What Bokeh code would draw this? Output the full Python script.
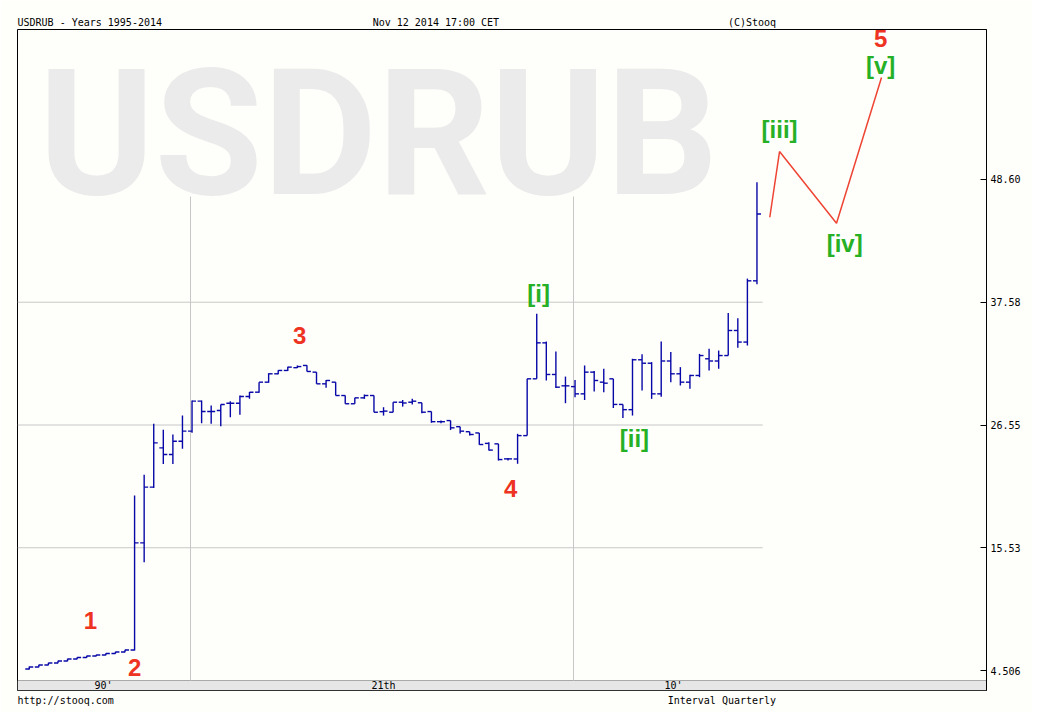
from bokeh.plotting import figure
from bokeh.models import Range1d, FixedTicker, Label, BoxAnnotation, ColumnDataSource, Title
from bokeh.core.properties import value
from bokeh.embed import file_html
from bokeh.resources import INLINE

# ---------------- data (quarterly OHLC, 1995Q4 .. 2014Q4) ----------------
quarters = ["1995Q4"] + [f"{y}Q{q}" for y in range(1996, 2015) for q in range(1, 5)]

opens = [
    4.64,
    4.82, 5.00, 5.18, 5.36,
    5.54, 5.67, 5.81, 5.90,
    6.03, 6.17, 6.35, 15.97,
    20.97, 24.50, 23.90, 25.10,
    26.00, 28.70, 27.76, 27.85,
    28.51, 28.51, 29.11, 29.50,
    30.40, 31.15, 31.45, 31.70,
    31.90, 31.30, 30.25, 30.40,
    29.20, 28.46, 28.99, 29.20,
    27.75, 27.70, 28.60, 28.60,
    28.55, 27.76, 26.85, 26.95,
    26.40, 25.95, 25.84, 24.90,
    24.86, 23.51, 23.50, 25.60,
    30.70, 33.93, 31.09, 30.07,
    30.00, 29.35, 31.30, 30.40,
    30.70, 28.40, 27.93, 32.41,
    32.10, 29.35, 32.30, 31.15,
    30.40, 31.00, 32.50, 32.30,
    32.79, 35.04, 34.00, 39.50,
]
highs = [
    4.86,
    5.03, 5.21, 5.39, 5.57,
    5.70, 5.84, 5.93, 6.06,
    6.20, 6.38, 20.22, 22.08,
    26.66, 26.12, 25.70, 27.40,
    28.75, 28.75, 28.30, 28.39,
    28.69, 29.20, 29.51, 30.40,
    31.20, 31.48, 31.78, 31.90,
    31.92, 31.30, 30.60, 30.40,
    29.20, 28.99, 29.29, 29.20,
    28.15, 28.60, 28.80, 28.90,
    28.55, 27.76, 26.95, 26.95,
    26.40, 25.95, 25.84, 25.00,
    24.86, 23.60, 25.76, 30.70,
    36.54, 34.05, 33.15, 30.90,
    30.60, 31.90, 31.40, 31.60,
    30.70, 28.40, 32.50, 32.90,
    32.20, 34.05, 33.10, 31.75,
    31.06, 32.94, 33.40, 33.24,
    36.60, 36.15, 39.70, 48.35,
]
lows = [
    4.60,
    4.79, 4.97, 5.15, 5.33,
    5.51, 5.64, 5.78, 5.87,
    6.00, 6.14, 6.30, 14.23,
    20.90, 23.06, 23.06, 24.41,
    25.85, 26.71, 26.66, 26.44,
    27.25, 27.47, 28.90, 29.45,
    30.35, 31.10, 31.40, 31.67,
    31.36, 30.25, 29.90, 29.20,
    28.46, 28.46, 28.90, 27.70,
    27.40, 27.70, 28.20, 28.40,
    27.60, 26.75, 26.70, 26.10,
    25.80, 25.60, 24.77, 24.26,
    23.36, 23.36, 23.07, 25.60,
    30.70, 30.55, 29.88, 28.51,
    29.05, 28.80, 29.56, 29.50,
    28.08, 27.18, 27.40, 29.65,
    28.90, 29.10, 30.40, 30.10,
    29.80, 30.85, 31.45, 31.60,
    32.79, 33.50, 33.69, 39.20,
]
closes = [
    4.82,
    5.00, 5.18, 5.36, 5.54,
    5.67, 5.81, 5.90, 6.03,
    6.17, 6.35, 15.97, 20.97,
    24.95, 23.90, 25.10, 26.00,
    28.70, 27.76, 27.76, 28.39,
    28.51, 29.11, 29.50, 30.40,
    31.15, 31.45, 31.75, 31.80,
    31.36, 30.25, 30.55, 29.20,
    28.46, 28.99, 29.20, 27.70,
    27.80, 28.60, 28.53, 28.69,
    27.70, 26.85, 26.85, 26.30,
    26.00, 25.70, 24.80, 24.30,
    23.45, 23.51, 25.60, 30.70,
    33.93, 31.09, 29.95, 30.07,
    29.35, 31.30, 30.55, 30.31,
    28.40, 27.93, 32.41, 32.10,
    29.35, 32.30, 31.15, 30.40,
    31.00, 32.79, 32.30, 32.79,
    35.04, 34.00, 39.50, 45.50,
]

y_ticks = [4.506, 15.53, 26.55, 37.58, 48.60]
y_tick_labels = ["4.506", "15.53", "26.55", "37.58", "48.60"]
grid_values = [15.53, 26.55, 37.58]
decade_years = [2000, 2010]
era_labels = ["90'", "21th", "10'"]
era_centers = [1997.73, 2005.04, 2012.61]

header_texts = ["USDRUB - Years 1995-2014", "Nov 12 2014 17:00 CET", "(C)Stooq"]
footer_texts = ["http://stooq.com", "Interval Quarterly"]

# Elliott-wave annotations (year, value)
red_labels = ["1", "2", "3", "4", "5"]
red_x = [1997.39, 1998.54, 2002.85, 2008.36, 2018.02]
red_y = [8.99, 4.78, 34.59, 20.85, 61.26]
green_labels = ["[i]", "[ii]", "[iii]", "[iv]", "[v]"]
green_x = [2009.09, 2011.59, 2015.38, 2017.08, 2018.02]
green_y = [38.36, 25.34, 53.09, 42.85, 58.84]
path_x = [2015.125, 2015.379, 2016.867, 2018.042]
path_y = [45.21, 51.11, 44.67, 57.76]

# ---------------- build ----------------
X0, X1 = 1995.483, 2020.783
Y0, Y1 = 2.71, 62.07

def qpos(label):
    y, q = label.split("Q")
    return int(y) + (int(q) - 1) / 4 + 0.04

xs = [qpos(s) for s in quarters]
half = 0.104  # tick half width in years

src = ColumnDataSource(dict(
    x=xs, o=opens, h=highs, l=lows, c=closes,
    xl=[x - half for x in xs], xr=[x + half for x in xs],
))

BG = "#fefefa"
p = figure(width=1032, height=712, output_backend="svg", toolbar_location=None,
           x_range=Range1d(X0, X1), y_range=Range1d(Y0, Y1),
           y_axis_location="right", x_axis_location=None,
           min_border_left=17, min_border_top=29, min_border_right=46, min_border_bottom=22,
           background_fill_color=BG, border_fill_color=BG)
p.xgrid.visible = False
p.ygrid.visible = False
p.outline_line_color = "black"
p.outline_line_width = 1

# watermark
p.add_layout(Label(x=1996.03, y=52.68, text="USDRUB", text_font="Roboto",
                   text_font_style="bold", text_font_size="176px", text_color="#ebebeb",
                   text_baseline="middle", level="image"))

# bottom band
p.add_layout(BoxAnnotation(top=3.608, fill_color="#e6e6e6", fill_alpha=1.0,
                           line_color="black", line_width=1, level="underlay"))

# grid
gx0 = [X0] * len(grid_values)
gx1 = [2014.94] * len(grid_values)
p.segment(x0=gx0, y0=grid_values, x1=gx1, y1=grid_values, line_color="#c8c8c8", line_width=1)
p.segment(x0=decade_years, y0=[3.608] * 2, x1=decade_years, y1=[47.07] * 2,
          line_color="#c8c8c8", line_width=1)

# OHLC bars
BAR = "#0808a8"
p.segment(x0="x", y0="l", x1="x", y1="h", source=src, line_color=BAR, line_width=1.4)
p.segment(x0="xl", y0="o", x1="x", y1="o", source=src, line_color=BAR, line_width=1.4)
p.segment(x0="x", y0="c", x1="xr", y1="c", source=src, line_color=BAR, line_width=1.4)

# projection path
p.line(path_x, path_y, line_color="#ee4433", line_width=1.5)

# wave labels
p.text(x=red_x, y=red_y, text=red_labels, text_color="#ee3322",
       text_font=value("Liberation Sans"), text_font_style="bold", text_font_size="24px",
       text_align="center", text_baseline="middle")
p.text(x=green_x, y=green_y, text=green_labels, text_color="#26b026",
       text_font=value("Liberation Sans"), text_font_style="bold", text_font_size="24px",
       text_align="center", text_baseline="middle")

# era labels in band
p.text(x=era_centers, y=[3.16] * 3, text=era_labels, text_color="black",
       text_font=value("DejaVu Sans Mono"), text_font_size="10px",
       text_align="center", text_baseline="middle")

# right axis
ax = p.yaxis[0]
ax.ticker = FixedTicker(ticks=y_ticks)
ax.major_label_overrides = {v: s for v, s in zip(y_ticks, y_tick_labels)}
ax.major_label_text_font = "DejaVu Sans Mono"
ax.major_label_text_font_size = "10px"
ax.major_label_text_color = "black"
ax.major_label_standoff = 4
ax.major_tick_in = 6
ax.major_tick_out = 0
ax.minor_tick_in = 0
ax.minor_tick_out = 0
ax.axis_line_color = "black"
ax.major_tick_line_color = "black"

# header / footer lines (monospace, columns padded with no-break spaces)
NB = "\u00a0"
header = header_texts[0] + NB * 35 + header_texts[1] + NB * 38 + header_texts[2]
footer = footer_texts[0] + NB * 92 + footer_texts[1]

def mk_title(s):
    return Title(text=s, align="left", offset=0, standoff=4,
                 text_font="DejaVu Sans Mono", text_font_size="10px",
                 text_font_style="normal", text_color="black")

p.add_layout(mk_title(header), "above")
p.add_layout(mk_title(footer), "below")

open("out.html", "w").write(file_html(p, INLINE))
